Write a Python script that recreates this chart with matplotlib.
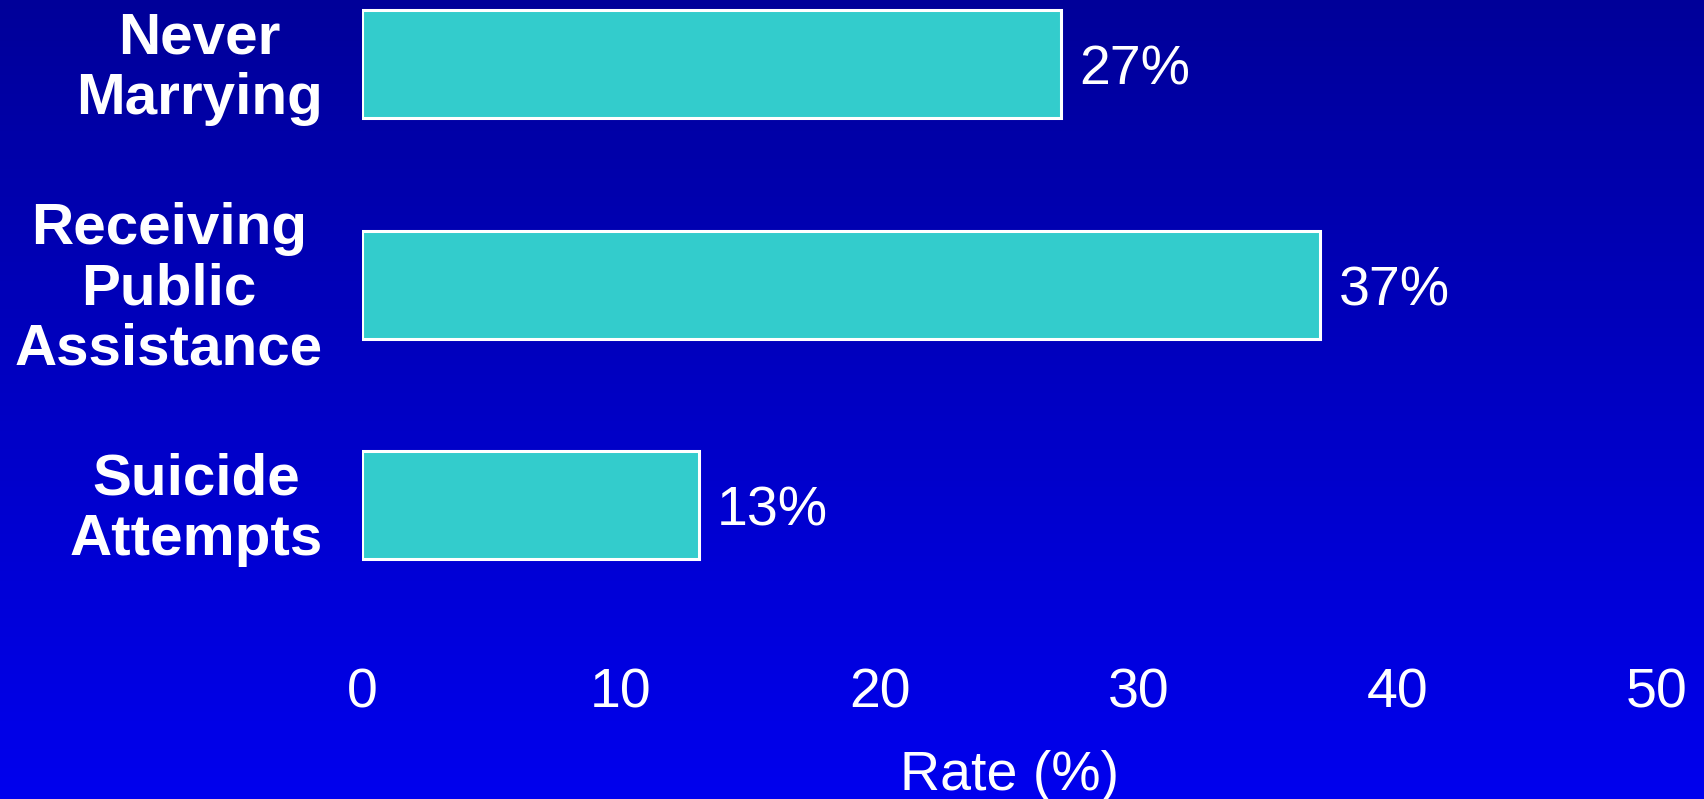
import numpy as np
import matplotlib
matplotlib.use("Agg")
import matplotlib.pyplot as plt

categories = ["Never\nMarrying", "Receiving\nPublic\nAssistance", "Suicide\nAttempts"]
rates = [27, 37, 13]
value_labels = ["27%", "37%", "13%"]
xticks = [0, 10, 20, 30, 40, 50]

plt.rcParams['font.family'] = ['Liberation Sans', 'DejaVu Sans']

W, H = 1704, 799
fig = plt.figure(figsize=(W / 100, H / 100), dpi=100)

# background gradient, dark navy at top to bright blue at bottom
bg = fig.add_axes([0, 0, 1, 1], zorder=-10)
grad = np.linspace(0, 1, 256).reshape(-1, 1)
top = np.array([0x00, 0x00, 0x99]) / 255
bot = np.array([0x00, 0x00, 0xEE]) / 255
img = top[None, None, :] * (1 - grad[:, :, None]) + bot[None, None, :] * grad[:, :, None]
bg.imshow(img, aspect="auto", extent=[0, 1, 0, 1])
bg.axis("off")

left, right = 362 / W, 1657 / W
ax_top, ax_bot = 0, 620
ax = fig.add_axes([left, (H - ax_bot) / H, right - left, (ax_bot - ax_top) / H])
ax.patch.set_alpha(0)

y = np.arange(len(categories))
ax.barh(y, rates, height=0.49, color="#33CCCC", edgecolor="white", linewidth=2.2)
for yi, r, lab in zip(y, rates, value_labels):
    ax.text(r + 0.7, yi + 0.03, lab, va="center", ha="left", color="white", fontsize=40)

ax.set_xlim(0, 50)
ax.set_ylim(2.52, -0.29)
ax.set_xticks(xticks)
ax.set_xticklabels([str(t) for t in xticks], fontsize=40, color="white")
ax.tick_params(axis="x", length=0, pad=34)
ax.set_yticks([])
for s in ax.spines.values():
    s.set_visible(False)

for yi, c in zip(y, categories):
    ax.text(-1.5, yi + 0.02, c, ha="right", va="center", multialignment="center",
            fontsize=42, fontweight="bold", color="white", linespacing=1.15)

ax.set_xlabel("Rate (%)", fontsize=40, color="white", labelpad=22)

fig.savefig("out.png", dpi=100)
